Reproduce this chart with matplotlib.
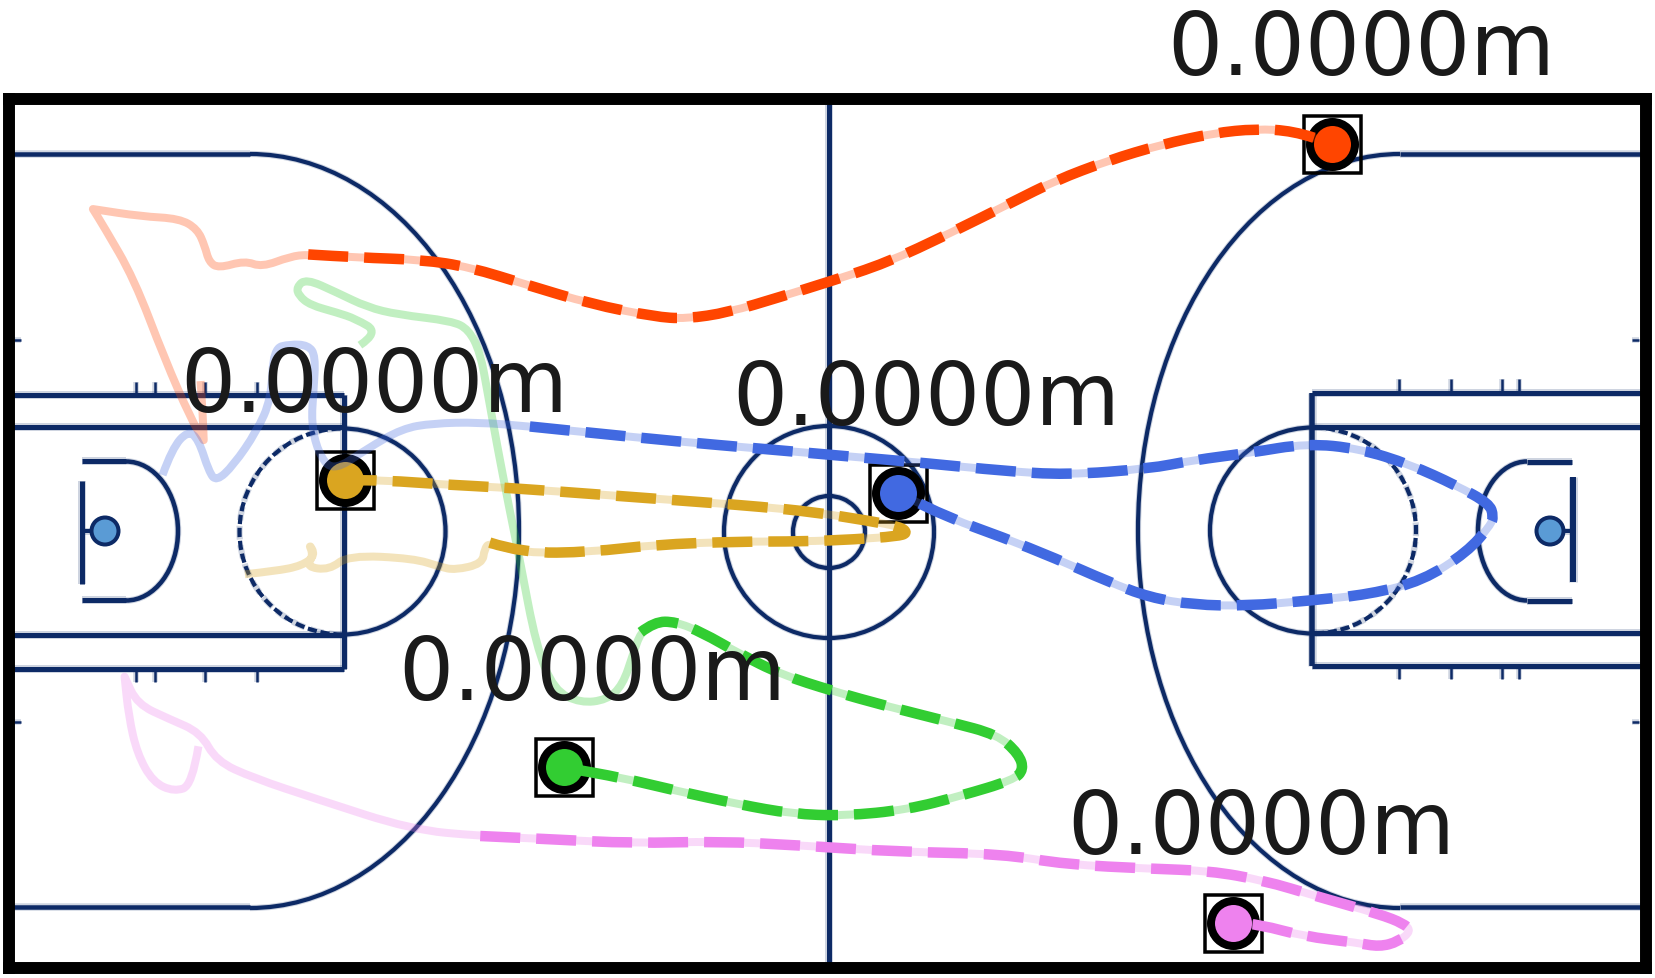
import matplotlib
matplotlib.use('Agg')
import matplotlib.pyplot as plt
import numpy as np
from matplotlib.patches import Arc, Circle, PathPatch
from matplotlib.path import Path

W, H = 1655, 979
SHOWN = 1655 / 1568

# tracks: light part first, then the dashed part (x, y in view pixels)
orange_old = [(190,362),(192,391),(193,418),(193,418),(181,398),(156,341),(127,265),(98,215),(88,199),(88,199),(134,206),(170,208),
              (187,218),(194,234),(198,249),(207,255),(232,248),(248,254),(275,244),(292,242)]
orange_new = [(292,242),(340,245),(400,247),(445,254),(500,271),(560,289),(620,301),(650,303),(690,297),(740,282),
              (785,268),(840,250),(900,222),(960,192),(1000,172),(1050,153),(1100,138),(1150,127),(1190,123),(1225,125),(1262,137)]

green_old = [(341,328),(359,316),(337,303),(319,297),(294,290),(283,281),(281,273),(290,265),(319,278),(348,292),
             (377,299),(428,305),(444,313),(455,335),(462,373),(471,423),(482,480),(493,534),(508,613),(525,655),
             (550,667),(575,664),(590,650),(600,620),(607,600)]
green_new = [(607,600),(620,590),(640,590),(665,600),(700,620),(740,640),(790,656),(840,670),(900,685),(945,697),
             (965,715),(970,730),(960,740),(910,755),(860,768),(800,774),(750,772),(700,763),(640,750),(590,738),(534,728)]

blue_old = [(154,451),(163,426),(178,409),(188,417),(198,448),(205,457),(221,442),(243,410),(257,379),(259,331),
            (275,327),(292,328),(299,338),(297,372),(295,401),(301,429),(315,448),(348,426),(381,407),(410,402),(453,401),(502,405)]
blue_new = [(502,405),(560,411),(640,419),(720,426),(800,433),(880,440),(950,447),(1010,451),(1089,445),(1130,437),
            (1184,430),(1238,421),(1288,426),(1336,441),(1380,461),(1411,478),(1415,490),(1412,499),(1390,524),(1348,551),
            (1298,564),(1241,570),(1181,575),(1131,574),(1089,567),(1050,552),(1000,530),(950,510),(900,492),(851,468)]

gold_old = [(232,545),(261,542),(286,537),(299,527),(292,515),(297,527),(290,538),(312,541),(330,527),(392,530),
            (417,538),(431,541),(457,535),(459,521),(464,515)]
gold_new = [(464,515),(495,525),(560,524),(620,517),(700,514),(760,514),(810,512),(850,509),(860,506),(853,500),
            (821,494),(770,486),(720,481),(669,477),(575,470),(480,463),(420,460),(365,456),(327,456)]

pink_old = [(188,708),(182,745),(165,751),(145,742),(130,715),(122,680),(118,642),(118,642),(130,668),(160,682),(190,695),
            (205,722),(240,738),(300,758),(390,787),(455,793)]
pink_new = [(455,793),(520,796),(600,800),(680,798),(760,802),(850,808),(950,810),(1010,820),(1090,824),(1146,826),
            (1197,835),(1247,850),(1307,867),(1330,876),(1337,883),(1325,893),(1307,898),(1285,894),(1235,888),(1194,877),(1168,875)]

tracks = [(orange_old, orange_new, 'orangered'), (green_old, green_new, 'limegreen'), (blue_old, blue_new, 'royalblue'),
          (gold_old, gold_new, 'goldenrod'), (pink_old, pink_new, 'violet')]

# label text and where it sits (left edge, baseline in view pixels)
label_text = '0.0000m'
label_x = [1106, 171, 694, 377, 1011]
label_y = [71, 390, 403, 663, 809]

# court in figure pixels
COURT = '#0d2a66'
top_line, bottom_line = 155, 908
key_left = [396, 428, 636, 670]
key_right = [394, 428, 634, 667]
ticks_left = [136, 155, 205, 257]
ticks_right = [1399, 1451, 1502, 1519]

fig = plt.figure(figsize=(W / 100, H / 100), dpi=100)
ax = fig.add_axes([8.5 / W, 1 - 969 / H, (1645.5 - 8.5) / W, (969 - 100) / H])
ax.set_xlim(8.5, 1645.5)
ax.set_ylim(969, 100)
ax.set_xticks([])
ax.set_yticks([])
for s in ax.spines.values():
    s.set_linewidth(8.6)
    s.set_color('k')


def px(v):
    return v * 72 / 100


def line(xs, ys, w=4.5):
    # blurry halo of the court picture, then the line itself
    ax.plot(xs, ys, color=COURT, lw=px(w + 3), alpha=0.2, solid_capstyle='butt', zorder=1)
    ax.plot(xs, ys, color=COURT, lw=px(w), solid_capstyle='butt', zorder=1.1)


def arc(cx, cy, a, b, t1, t2, ls='-', w=4.2):
    ax.add_patch(Arc((cx, cy), 2 * a, 2 * b, theta1=t1, theta2=t2, color=COURT, lw=px(w + 2), alpha=0.2, ls=ls, zorder=1))
    ax.add_patch(Arc((cx, cy), 2 * a, 2 * b, theta1=t1, theta2=t2, color=COURT, lw=px(w), ls=ls, zorder=1.1))


def smooth(pts):
    # quadratic curves with the read points as control points
    verts = [pts[0]]
    codes = [Path.MOVETO]
    for i in range(1, len(pts) - 1):
        verts += [pts[i], (pts[i] + pts[i + 1]) / 2]
        codes += [Path.CURVE3, Path.CURVE3]
    verts.append(pts[-1])
    codes.append(Path.LINETO)
    return Path(verts, codes)


# half way line and centre circles
line([829, 829], [100, 969], 5)
arc(829, 533, 105, 106, 0, 360)
arc(829, 533, 36, 36, 0, 360)

# three point lines
for y in [top_line, bottom_line]:
    line([8, 250], [y, y])
    line([1400, 1646], [y, y])
arc(250, 532, 269, 377, -90, 90)
arc(1400, 532, 262, 377, 90, 270)

# left key
for y in key_left:
    line([8, 344], [y, y], 5)
line([344, 344], [key_left[0], key_left[3]], 5)
arc(342.5, 532.5, 103, 103, -90, 90)
arc(342.5, 532.5, 103, 103, 90, 270, ls=(0, (2.2, 0.9)))

# right key
for y in key_right:
    line([1312, 1646], [y, y], 5)
line([1312, 1312], [key_right[0], key_right[3]], 5.5)
arc(1313, 531.5, 103, 103, 90, 270)
arc(1313, 531.5, 103, 103, -90, 90, ls=(0, (2.2, 0.9)))

# baskets
line([82, 82], [482, 585], 5)
line([82, 105], [532, 532], 4)
line([82, 126], [462, 462], 5)
line([82, 126], [601, 601], 5)
arc(126, 532, 52, 69.5, -90, 90, w=4.5)
line([1573, 1573], [478, 583], 6)
line([1550, 1573], [532, 532], 4)
line([1572, 1527], [463, 463], 5)
line([1572, 1527], [602, 602], 5)
arc(1527, 532, 49, 69.5, 90, 270, w=4.5)
for cx in [105, 1550]:
    ax.add_patch(Circle((cx, 532), 13.5, facecolor='#5a9bd5', edgecolor=COURT, lw=px(4), zorder=1.2))

# small ticks on the lines
for x in ticks_left:
    line([x, x], [383, key_left[0]], 2.5)
    line([x, x], [key_left[3], 683], 2.5)
for x in ticks_right:
    line([x, x], [380, key_right[0]], 2.5)
    line([x, x], [key_right[3], 680], 2.5)
for y in [341, 723]:
    line([14, 21], [y, y], 2.5)
    line([1632, 1639], [y, y], 2.5)

# players and their tracks
for old, new, c in tracks:
    old = np.array(old) * SHOWN
    new = np.array(new) * SHOWN
    both = np.vstack([old, new[1:]])
    cx, cy = new[-1]
    ax.plot(cx, cy, 's', ms=px(57), mfc='none', mec='k', mew=px(3.5), zorder=3)
    ax.plot(cx, cy, 'o', ms=px(45), mfc=c, mec='k', mew=px(8), zorder=3.1)
    ax.add_patch(PathPatch(smooth(both), fill=False, edgecolor=c, lw=px(8), alpha=0.3, joinstyle='round', zorder=4))
    ax.add_patch(PathPatch(smooth(new), fill=False, edgecolor=c, lw=px(10.5), ls=(0, (40 / 10.5, 16 / 10.5)),
                           capstyle='butt', joinstyle='round', zorder=4.1))

for x, y in zip(label_x, label_y):
    ax.text(x * SHOWN, y * SHOWN, label_text, fontsize=62.5, color='#1a1a1a', ha='left', va='baseline', zorder=6)

plt.savefig('out.png', dpi=100)
